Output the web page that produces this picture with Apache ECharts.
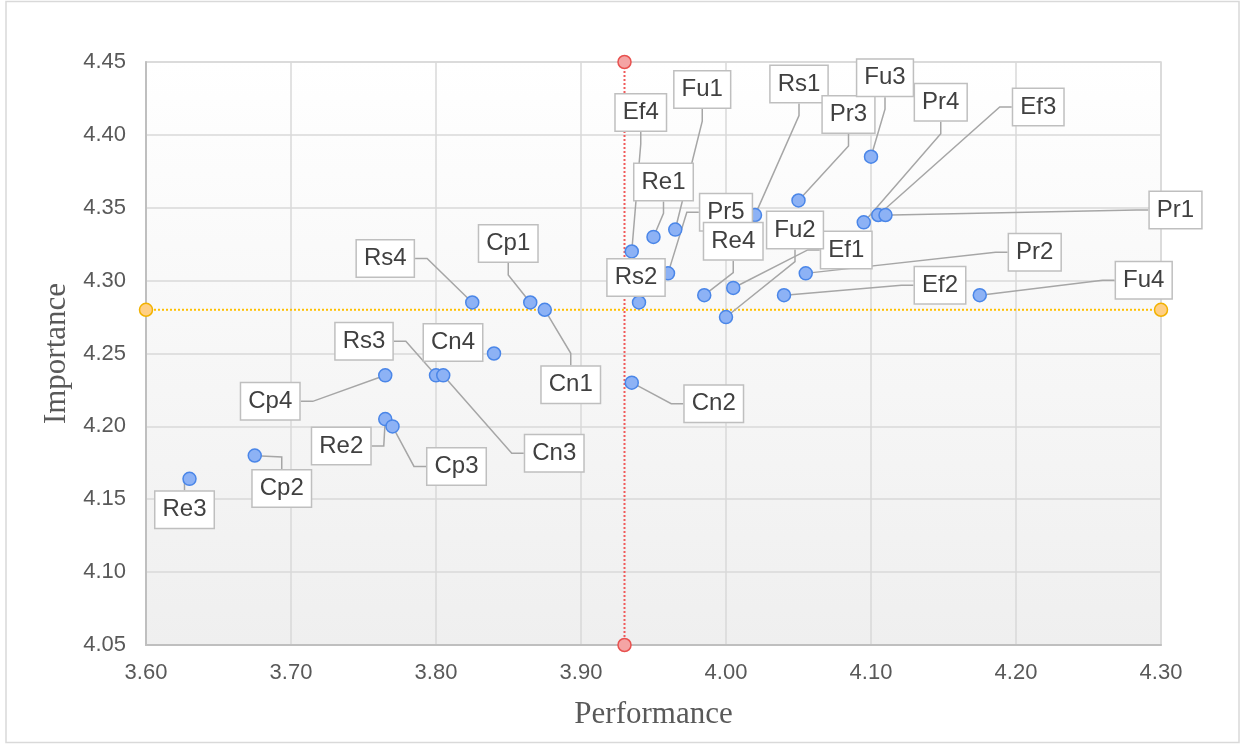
<!DOCTYPE html>
<html>
<head>
<meta charset="utf-8">
<script src="https://cdn.jsdelivr.net/npm/echarts@6/dist/echarts.min.js"></script>
<style>
html,body{margin:0;padding:0;background:#fff;}
#chart{width:1243px;height:744px;}
</style>
</head>
<body>
<div id="chart"></div>
<script>
// ---- data ----
const names = ['Re3','Cp2','Cp4','Re2','Cp3','Rs3','Cn3','Cn4','Rs4','Cp1','Cn1','Cn2','Ef4','Rs2','Re1','Fu1','Pr5','Re4','Ef1','Fu2','Rs1','Pr3','Pr2','Ef2','Fu3','Pr4','Ef3','Pr1','Fu4'];
const performance = [3.63,3.675,3.765,3.765,3.77,3.80,3.805,3.84,3.825,3.865,3.875,3.935,3.935,3.94,3.95,3.965,3.96,3.985,4.005,4.00,4.02,4.05,4.055,4.04,4.10,4.095,4.105,4.11,4.175];
const importance  = [4.164,4.18,4.235,4.205,4.20,4.235,4.235,4.25,4.285,4.285,4.28,4.23,4.32,4.285,4.33,4.335,4.305,4.29,4.295,4.275,4.345,4.355,4.305,4.29,4.385,4.34,4.345,4.345,4.29];
const meanPerformance = 3.93;
const meanImportance = 4.28;
const xRange = [3.60, 4.30];
const yRange = [4.05, 4.45];
const xStep = 0.1;
const yStep = 0.05;

// ---- label placement (pixel offsets of label centre from its point) ----
const labelOffsets = {
  Re3:[-5,31], Cp2:[27,33], Cp4:[-115,26], Re2:[-44,27], Cp3:[64,40],
  Rs3:[-72,-34], Cn3:[111,78], Cn4:[-41,-11], Rs4:[-87,-44], Cp1:[-22,-59],
  Cn1:[26,75], Cn2:[82,21], Ef4:[9,-139], Rs2:[-3,-25], Re1:[10,-55],
  Fu1:[27,-140], Pr5:[58,-61], Re4:[29,-54], Ef1:[113,-38], Fu2:[69,-87],
  Rs1:[44,-131], Pr3:[50,-86], Pr2:[229,-21], Ef2:[156,-10], Fu3:[14,-79],
  Pr4:[77,-120], Ef3:[160,-108], Pr1:[290,-5], Fu4:[164,-15]
};
const noLeader = ['Cn4','Rs2'];

const points = names.map((n,i)=>({
  name:n,
  value:[performance[i], importance[i]],
  labelLine:{show: noLeader.indexOf(n) < 0}
}));

const chart = echarts.init(document.getElementById('chart'), null, {renderer:'canvas'});
const axisLabelStyle = {color:'#595959', fontSize:22, fontFamily:'Liberation Sans, Arial, sans-serif'};
const nameStyle = {color:'#595959', fontSize:31, fontFamily:'Liberation Serif, Times New Roman, serif'};

chart.setOption({
  animation:false,
  graphic:[{type:'rect', shape:{x:6,y:1.5,width:1233,height:741}, style:{fill:'none', stroke:'#d9d9d9', lineWidth:1.5}, silent:true, z:-10}],
  grid:{left:146, right:82, top:62, bottom:99, show:true,
    backgroundColor: new echarts.graphic.LinearGradient(0,0,0,1,[{offset:0,color:'#ffffff'},{offset:1,color:'#efefef'}]),
    borderColor:'#d9d9d9', borderWidth:1.5},
  xAxis:{type:'value', min:xRange[0], max:xRange[1], interval:xStep,
    name:'Performance', nameLocation:'middle', nameGap:54, nameTextStyle:nameStyle,
    axisLine:{show:true, lineStyle:{color:'#bfbfbf', width:2}}, axisTick:{show:false},
    axisLabel:Object.assign({margin:17, formatter:v=>v.toFixed(2)}, axisLabelStyle),
    splitLine:{show:true, lineStyle:{color:'#d9d9d9', width:1.5}}},
  yAxis:{type:'value', min:yRange[0], max:yRange[1], interval:yStep,
    name:'Importance', nameLocation:'middle', nameGap:74, nameTextStyle:nameStyle,
    axisLine:{show:true, lineStyle:{color:'#bfbfbf', width:2}}, axisTick:{show:false},
    axisLabel:Object.assign({margin:20, formatter:v=>v.toFixed(2)}, axisLabelStyle),
    splitLine:{show:true, lineStyle:{color:'#d9d9d9', width:1.5}}},
  series:[
    {type:'line', z:2, data:[[meanPerformance,yRange[0]],[meanPerformance,yRange[1]]],
      symbol:'circle', symbolSize:13, showSymbol:true,
      lineStyle:{color:'#f05a5a', width:2, type:'dotted'},
      itemStyle:{color:'#f4a4a4', borderColor:'#e8514f', borderWidth:1.5}},
    {type:'line', z:2, data:[[xRange[0],meanImportance],[xRange[1],meanImportance]],
      symbol:'circle', symbolSize:13, showSymbol:true,
      lineStyle:{color:'#ffc000', width:2, type:'dotted'},
      itemStyle:{color:'#ffcf85', borderColor:'#f2b200', borderWidth:1.5}},
    {type:'scatter', z:3, data:points, symbolSize:13,
      itemStyle:{color:'#8db2f5', borderColor:'#4a86e8', borderWidth:1.5, opacity:1},
      label:{show:true, position:'inside', formatter:'{b}', color:'#404040',
        fontSize:24, fontFamily:'Liberation Sans, Arial, sans-serif', lineHeight:26,
        backgroundColor:'#ffffff', borderColor:'#bfbfbf', borderWidth:1.5, padding:[5,7]},
      labelLine:{show:true, length2:12, lineStyle:{color:'#a6a6a6', width:1.5}},
      labelLayout:function(p){
        const o = labelOffsets[names[p.dataIndex]] || [0,0];
        return {dx:o[0], dy:o[1]};
      }
    }
  ]
});
</script>
</body>
</html>
